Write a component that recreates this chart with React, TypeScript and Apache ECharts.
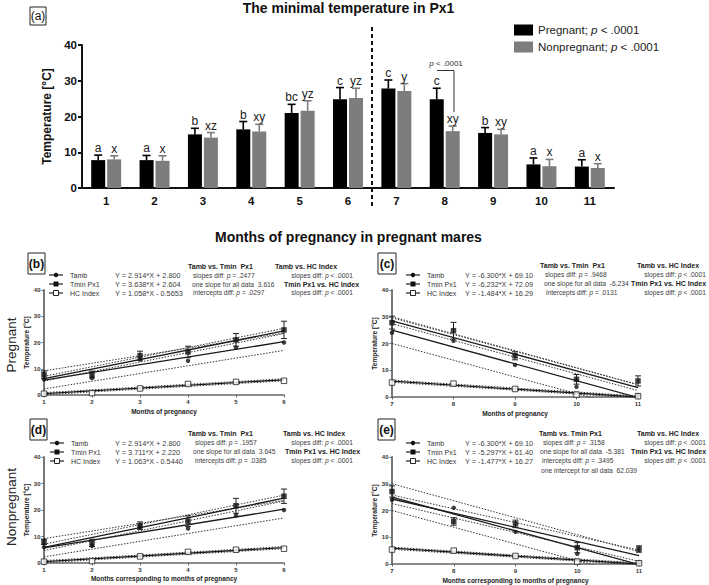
import React, { useEffect, useRef } from "react";
import * as echarts from "echarts";

const FONT = '"Liberation Sans", Arial, Helvetica, sans-serif';

// ---------- Panel (a): minimal temperature in Px1 ----------
const monthLabels = ["1", "2", "3", "4", "5", "6", "7", "8", "9", "10", "11"];
const pregnantMean = [7.8, 7.8, 15.0, 16.4, 21.0, 24.8, 27.8, 24.8, 15.4, 6.6, 6.0];
const pregnantErr = [1.4, 1.3, 1.7, 2.2, 2.4, 3.3, 2.4, 3.1, 1.5, 1.8, 1.9];
const nonpregMean = [8.0, 7.6, 14.1, 15.8, 21.6, 25.2, 27.1, 15.9, 15.0, 6.1, 5.6];
const nonpregErr = [1.0, 1.4, 1.4, 2.0, 2.8, 2.7, 2.1, 1.4, 1.4, 1.9, 1.2];
const pregnantLetters = ["a", "a", "b", "b", "bc", "c", "c", "c", "b", "a", "a"];
const nonpregLetters = ["x", "x", "xz", "xy", "yz", "yz", "y", "xy", "xy", "x", "x"];

// ---------- Panels (b)-(e) ----------
const seriesNames = ["Tamb", "Tmin Px1", "HC Index"];
const monthsEarly = [1, 2, 3, 4, 5, 6];
const monthsLate = [7, 8, 9, 10, 11];
const tambEarly = [6.0, 6.5, 13.5, 13.0, 18.0, 20.0];
const tambLate = [24.0, 21.0, 12.0, 3.8, 0.7];
const hcEarly = [0.5, 0.7, 2.5, 4.2, 5.0, 5.4];
const hcLate = [5.4, 5.0, 3.0, 0.9, 0.3];

// regression lines and confidence bands (end points)
const tambFitEarly = [[1, 5.7], [6, 20.3]];
const tambUpperEarly = [[1, 9.2], [6, 23.6]];
const tambLowerEarly = [[1, 2.3], [6, 17.0]];
const hcFitEarly = [[1, 0.5], [6, 5.8]];
const hcUpperEarly = [[1, 0.9], [6, 6.2]];
const hcLowerEarly = [[1, 0.1], [6, 5.4]];
const tminFitB = [[1, 6.2], [6, 24.4]];
const tminUpperB = [[1, 7.1], [6, 25.4]];
const tminLowerB = [[1, 5.3], [6, 23.4]];
const tminFitD = [[1, 5.9], [6, 24.5]];
const tminUpperD = [[1, 7.1], [6, 25.6]];
const tminLowerD = [[1, 4.7], [6, 23.4]];
const tambFitLate = [[7, 25.0], [11, -0.2]];
const tambUpperLate = [[7, 30.0], [11, 4.6]];
const tambLowerLate = [[7, 20.0], [11, -5.0]];
const hcFitLate = [[7, 5.9], [11, 0.0]];
const hcUpperLate = [[7, 6.3], [11, 0.4]];
const hcLowerLate = [[7, 5.5], [11, -0.4]];
const tminFitC = [[7, 28.5], [11, 3.5]];
const tminUpperC = [[7, 29.6], [11, 4.6]];
const tminLowerC = [[7, 27.4], [11, 2.4]];
const tminFitE = [[7, 24.3], [11, 3.1]];
const tminUpperE = [[7, 25.8], [11, 5.2]];
const tminLowerE = [[7, 22.6], [11, 1.0]];

// ---------- helpers ----------
function txt(x: number, y: number, text: string, o: any = {}) {
  const fontSize = o.size ?? (o.bold ? 7 : 6.7);
  const fontWeight = o.bold ? "bold" : "normal";
  const fill = o.color ?? "#3c3c3c";
  const align = o.align ?? "left";
  const parts = text.split("*p*");
  let t = text;
  let rich: any = undefined;
  if (parts.length > 1) {
    t = parts.map((p) => (p.length ? `{n|${p}}` : "")).join("{i|p}");
    rich = {
      n: { fontSize, fontWeight, fill, color: fill, fontFamily: FONT },
      i: { fontSize, fontStyle: "italic", fill, color: fill, fontFamily: FONT },
    };
  }
  return {
    type: "text",
    x,
    y,
    rotation: o.rot ?? 0,
    z: 100,
    style: {
      text: t,
      rich,
      fontSize,
      fontWeight,
      fill,
      fontFamily: FONT,
      textAlign: align,
      textVerticalAlign: "middle",
      align,
      verticalAlign: "middle",
    },
  };
}

function box(x: number, y: number, w: number, h: number, label: string, bold: boolean) {
  return [
    { type: "rect", shape: { x, y, width: w, height: h }, style: { fill: "none", stroke: "#222", lineWidth: 1 }, z: 100 },
    txt(x + w / 2, y + h / 2, label, { size: 12, bold, color: "#111", align: "center" }),
  ];
}

function panelLegend(x0: number, ys: number[]) {
  const els: any[] = [];
  ys.forEach((y, i) => {
    els.push({ type: "line", z: 100, shape: { x1: x0, y1: y, x2: x0 + 14, y2: y }, style: { stroke: "#222", lineWidth: 1.2 } });
    if (i === 0) els.push({ type: "circle", z: 101, shape: { cx: x0 + 7, cy: y, r: 2.2 }, style: { fill: "#111" } });
    else if (i === 1)
      els.push({ type: "rect", z: 101, shape: { x: x0 + 4.5, y: y - 2.5, width: 5, height: 5 }, style: { fill: "#111" } });
    else
      els.push({
        type: "rect",
        z: 101,
        shape: { x: x0 + 4.5, y: y - 2.5, width: 5, height: 5 },
        style: { fill: "#fff", stroke: "#222", lineWidth: 1 },
      });
    els.push(txt(x0 + 21, y, seriesNames[i], { size: 7, color: "#333" }));
  });
  return els;
}

const xy = (xs: number[], ys: number[]) => xs.map((x, i) => [x, ys[i]]);

function panelErrRender(params: any, api: any) {
  const x = api.value(0);
  const m = api.value(1);
  const e = api.value(2);
  const top = api.coord([x, m + e]);
  const bot = api.coord([x, m - e]);
  const st = { stroke: "#222", lineWidth: 1 };
  return {
    type: "group",
    children: [
      { type: "line", shape: { x1: top[0], y1: top[1], x2: bot[0], y2: bot[1] }, style: st },
      { type: "line", shape: { x1: top[0] - 3, y1: top[1], x2: top[0] + 3, y2: top[1] }, style: st },
      { type: "line", shape: { x1: bot[0] - 3, y1: bot[1], x2: bot[0] + 3, y2: bot[1] }, style: st },
    ],
  };
}

function panelSeries(idx: number, months: number[], tamb: number[], hc: number[], tMean: number[], tErr: number[], L: any) {
  const c = { xAxisIndex: idx, yAxisIndex: idx, silent: true };
  const solid = (d: any) => ({ ...c, type: "line", data: d, symbol: "none", lineStyle: { color: "#1a1a1a", width: 1.3 }, z: 2 });
  const dotted = (d: any) => ({
    ...c,
    type: "line",
    data: d,
    symbol: "none",
    lineStyle: { color: "#333", width: 1, type: [1.5, 1.5] },
    z: 2,
  });
  return [
    solid(L.tambFit),
    dotted(L.tambUp),
    dotted(L.tambLo),
    solid(L.tminFit),
    dotted(L.tminUp),
    dotted(L.tminLo),
    solid(L.hcFit),
    dotted(L.hcUp),
    dotted(L.hcLo),
    { ...c, type: "scatter", data: xy(months, tamb), symbol: "circle", symbolSize: 4.5, itemStyle: { color: "#111" }, z: 4 },
    {
      ...c,
      type: "scatter",
      data: xy(months, hc),
      symbol: "rect",
      symbolSize: 5.5,
      itemStyle: { color: "#fff", borderColor: "#222", borderWidth: 1 },
      z: 4,
    },
    {
      ...c,
      type: "custom",
      data: months.map((m, i) => [m, tMean[i], tErr[i]]),
      encode: { x: 0, y: 1 },
      renderItem: panelErrRender,
      z: 3,
    },
    { ...c, type: "scatter", data: xy(months, tMean), symbol: "rect", symbolSize: 5.5, itemStyle: { color: "#111" }, z: 5 },
  ];
}

function barErrSeries(means: number[], errs: number[], letters: string[], offset: number, color: string) {
  return {
    type: "custom",
    xAxisIndex: 0,
    yAxisIndex: 0,
    silent: true,
    z: 3,
    data: means.map((m, i) => [i, m, errs[i]]),
    encode: { x: 0, y: 1 },
    renderItem: (params: any, api: any) => {
      const i = api.value(0);
      const m = api.value(1);
      const e = api.value(2);
      const base = api.coord([i, m]);
      const top = api.coord([i, m + e]);
      const x = base[0] + offset;
      const st = { stroke: color, lineWidth: 1.6 };
      return {
        type: "group",
        children: [
          { type: "line", shape: { x1: x, y1: base[1], x2: x, y2: top[1] }, style: st },
          { type: "line", shape: { x1: x - 4, y1: top[1], x2: x + 4, y2: top[1] }, style: st },
          {
            type: "text",
            style: {
              text: letters[params.dataIndex],
              x,
              y: top[1] - 1,
              textAlign: "center",
              textVerticalAlign: "bottom",
              align: "center",
              verticalAlign: "bottom",
              fontSize: 12,
              fontFamily: FONT,
              fill: "#222",
            },
          },
        ],
      };
    },
  };
}

function smallX(gridIndex: number, min: number, max: number, name: string, gap: number) {
  return {
    type: "value",
    gridIndex,
    min,
    max,
    interval: 1,
    name,
    nameLocation: "middle",
    nameGap: gap,
    nameTextStyle: { fontSize: 6.5, fontWeight: "bold", color: "#222", fontFamily: FONT },
    axisLine: { show: true, onZero: false, lineStyle: { color: "#666", width: 1.5 } },
    axisTick: { show: true, length: 2.5, lineStyle: { color: "#666", width: 1 } },
    axisLabel: { fontSize: 6, fontWeight: "bold", color: "#333", margin: 3.5, fontFamily: FONT },
    splitLine: { show: false },
  };
}

function smallY(gridIndex: number) {
  return {
    type: "value",
    gridIndex,
    min: 0,
    max: 40,
    interval: 10,
    name: "Temperature [°C]",
    nameLocation: "middle",
    nameGap: 13,
    nameTextStyle: { fontSize: 6.5, fontWeight: "bold", color: "#222", fontFamily: FONT },
    axisLine: { show: true, lineStyle: { color: "#777", width: 2 } },
    axisTick: { show: true, length: 2.5, lineStyle: { color: "#666", width: 1 } },
    axisLabel: { fontSize: 6, fontWeight: "bold", color: "#333", margin: 3.5, fontFamily: FONT },
    splitLine: { show: false },
  };
}

function buildOption() {
  const graphic: any[] = [
    txt(348.5, 8, "The minimal temperature in Px1", { size: 14, bold: true, color: "#111", align: "center" }),
    ...box(30, 7, 16, 18, "(a)", false),
    // divider between months 6 and 7
    { type: "line", z: 100, shape: { x1: 372, y1: 27, x2: 372, y2: 206 }, style: { stroke: "#111", lineWidth: 2, lineDash: [4, 3] } },
    // bracket over month 8
    {
      type: "polyline",
      z: 100,
      shape: { points: [[437, 70.5], [454, 70.5], [454, 112]] },
      style: { stroke: "#333", lineWidth: 1, fill: "none" },
    },
    txt(446, 63.5, "*p* < .0001", { size: 8, color: "#333", align: "center" }),

    txt(348.5, 237, "Months of pregnancy in pregnant mares", { size: 14, bold: true, color: "#111", align: "center" }),
    txt(11, 345, "Pregnant", { size: 13.5, color: "#222", align: "center", rot: Math.PI / 2 }),
    txt(11, 507, "Nonpregnant", { size: 13.5, color: "#222", align: "center", rot: Math.PI / 2 }),

    // (b)
    ...box(28, 253, 17, 21, "(b)", true),
    ...panelLegend(49, [275, 284, 293]),
    txt(115, 275, "Y = 2.914*X + 2.800", { size: 7.3 }),
    txt(115, 284, "Y = 3.638*X + 2.604", { size: 7.3 }),
    txt(115, 293, "Y = 1.058*X - 0.5653", { size: 7.3 }),
    txt(188, 266, "Tamb vs. Tmin  Px1", { bold: true, color: "#222" }),
    txt(193, 275, "slopes diff: *p* = .2477"),
    txt(192, 284, "one slope for all data  3.616"),
    txt(193, 292.5, "intercepts diff: *p* = .0297"),
    txt(275, 266, "Tamb vs. HC Index", { bold: true, color: "#222" }),
    txt(353, 275, "slopes diff: *p* < .0001", { align: "right" }),
    txt(284, 284, "Tmin Px1 vs. HC Index", { bold: true, color: "#222" }),
    txt(353, 292.5, "slopes diff: *p* < .0001", { align: "right" }),

    // (c)
    ...box(378, 253, 18, 21, "(c)", true),
    ...panelLegend(406, [275, 284, 293]),
    txt(465, 275, "Y = -6.300*X + 69.10", { size: 7.3 }),
    txt(465, 284, "Y = -6.232*X + 72.09", { size: 7.3 }),
    txt(465, 293, "Y = -1.484*X + 16.29", { size: 7.3 }),
    txt(540, 265, "Tamb vs. Tmin  Px1", { bold: true, color: "#222" }),
    txt(545, 274.5, "slopes diff: *p* = .9468"),
    txt(544, 283.5, "one slope for all data  -6.234"),
    txt(546, 292, "intercepts diff: *p* = .0131"),
    txt(637, 265, "Tamb vs. HC Index", { bold: true, color: "#222" }),
    txt(706, 274.5, "slopes diff: *p* < .0001", { align: "right" }),
    txt(631, 283.5, "Tmin Px1 vs. HC Index", { bold: true, color: "#222" }),
    txt(706, 292, "slopes diff: *p* < .0001", { align: "right" }),

    // (d)
    ...box(30, 419, 17, 21, "(d)", true),
    ...panelLegend(50, [443, 452, 461]),
    txt(115, 443, "Y = 2.914*X + 2.800", { size: 7.3 }),
    txt(115, 452, "Y = 3.711*X + 2.220", { size: 7.3 }),
    txt(115, 461, "Y = 1.063*X - 0.5440", { size: 7.3 }),
    txt(188, 433.5, "Tamb vs. Tmin  Px1", { bold: true, color: "#222" }),
    txt(195, 442.5, "slopes diff: *p* = .1957"),
    txt(193, 451.5, "one slope for all data  3.645"),
    txt(195, 460.5, "intercepts diff: *p* = .0385"),
    txt(283, 433.5, "Tamb vs. HC Index", { bold: true, color: "#222" }),
    txt(353, 442.5, "slopes diff: *p* < .0001", { align: "right" }),
    txt(285, 451.5, "Tmin Px1 vs. HC Index", { bold: true, color: "#222" }),
    txt(353, 460.5, "slopes diff: *p* < .0001", { align: "right" }),

    // (e)
    ...box(378, 419, 17, 21, "(e)", true),
    ...panelLegend(406, [443, 452, 461]),
    txt(465, 443, "Y = -6.300*X + 69.10", { size: 7.3 }),
    txt(465, 452, "Y = -5.297*X + 61.40", { size: 7.3 }),
    txt(465, 461, "Y = -1.477*X + 16.27", { size: 7.3 }),
    txt(539, 433.5, "Tamb vs. Tmin Px1", { bold: true, color: "#222" }),
    txt(543, 442.5, "slopes diff: *p* = .3158"),
    txt(540, 451.5, "one slope for all data  -5.381"),
    txt(542, 460.5, "intercepts diff: *p* = .3495"),
    txt(541, 470, "one intercept for all data  62.039"),
    txt(637, 433.5, "Tamb vs. HC Index", { bold: true, color: "#222" }),
    txt(706, 442.5, "slopes diff: *p* < .0001", { align: "right" }),
    txt(631, 451.5, "Tmin Px1 vs. HC Index", { bold: true, color: "#222" }),
    txt(706, 460.5, "slopes diff: *p* < .0001", { align: "right" }),
  ];

  return {
    animation: false,
    backgroundColor: "#fff",
    textStyle: { fontFamily: FONT },
    grid: [
      { left: 82, top: 45, width: 532, height: 143 },
      { left: 44, top: 290, width: 240, height: 105 },
      { left: 392, top: 290, width: 246, height: 107 },
      { left: 44, top: 457, width: 240, height: 106 },
      { left: 392, top: 457, width: 247, height: 108 },
    ],
    legend: {
      data: ["Pregnant", "Nonpregnant"],
      orient: "vertical",
      left: 509,
      top: 19,
      itemWidth: 19,
      itemHeight: 11,
      itemGap: 5,
      icon: "rect",
      textStyle: {
        fontSize: 11.5,
        color: "#222",
        fontFamily: FONT,
        rich: { i: { fontStyle: "italic", fontSize: 11.5, color: "#222", fontFamily: FONT } },
      },
      formatter: (n: string) => `${n}; {i|p} < .0001`,
    },
    xAxis: [
      {
        type: "category",
        gridIndex: 0,
        data: monthLabels,
        axisLine: { show: true, lineStyle: { color: "#111", width: 2 } },
        axisTick: { show: false },
        axisLabel: { fontSize: 11.5, fontWeight: "bold", color: "#111", margin: 7, fontFamily: FONT },
      },
      smallX(1, 1, 6, "Months of pregnancy", 13),
      smallX(2, 7, 11, "Months of pregnancy", 13),
      smallX(3, 1, 6, "Months corresponding to months of pregnancy", 12),
      smallX(4, 7, 11, "Months corresponding to months of pregnancy", 13),
    ],
    yAxis: [
      {
        type: "value",
        gridIndex: 0,
        min: 0,
        max: 40,
        interval: 10,
        name: "Temperature [°C]",
        nameLocation: "middle",
        nameGap: 22,
        nameTextStyle: { fontSize: 12, fontWeight: "bold", color: "#111", fontFamily: FONT },
        axisLine: { show: true, lineStyle: { color: "#111", width: 2 } },
        axisTick: { show: true, length: 4, lineStyle: { color: "#111", width: 2 } },
        axisLabel: { fontSize: 11.5, fontWeight: "bold", color: "#111", margin: 5, fontFamily: FONT },
        splitLine: { show: false },
      },
      smallY(1),
      smallY(2),
      smallY(3),
      smallY(4),
    ],
    series: [
      {
        name: "Pregnant",
        type: "bar",
        xAxisIndex: 0,
        yAxisIndex: 0,
        data: pregnantMean,
        barWidth: 14,
        barGap: "14%",
        itemStyle: { color: "#000" },
      },
      {
        name: "Nonpregnant",
        type: "bar",
        xAxisIndex: 0,
        yAxisIndex: 0,
        data: nonpregMean,
        barWidth: 14,
        barGap: "14%",
        itemStyle: { color: "#7d7d7d" },
      },
      barErrSeries(pregnantMean, pregnantErr, pregnantLetters, -8, "#000"),
      barErrSeries(nonpregMean, nonpregErr, nonpregLetters, 8, "#7d7d7d"),
      ...panelSeries(1, monthsEarly, tambEarly, hcEarly, pregnantMean.slice(0, 6), pregnantErr.slice(0, 6), {
        tambFit: tambFitEarly, tambUp: tambUpperEarly, tambLo: tambLowerEarly,
        tminFit: tminFitB, tminUp: tminUpperB, tminLo: tminLowerB,
        hcFit: hcFitEarly, hcUp: hcUpperEarly, hcLo: hcLowerEarly,
      }),
      ...panelSeries(2, monthsLate, tambLate, hcLate, pregnantMean.slice(6), pregnantErr.slice(6), {
        tambFit: tambFitLate, tambUp: tambUpperLate, tambLo: tambLowerLate,
        tminFit: tminFitC, tminUp: tminUpperC, tminLo: tminLowerC,
        hcFit: hcFitLate, hcUp: hcUpperLate, hcLo: hcLowerLate,
      }),
      ...panelSeries(3, monthsEarly, tambEarly, hcEarly, nonpregMean.slice(0, 6), nonpregErr.slice(0, 6), {
        tambFit: tambFitEarly, tambUp: tambUpperEarly, tambLo: tambLowerEarly,
        tminFit: tminFitD, tminUp: tminUpperD, tminLo: tminLowerD,
        hcFit: hcFitEarly, hcUp: hcUpperEarly, hcLo: hcLowerEarly,
      }),
      ...panelSeries(4, monthsLate, tambLate, hcLate, nonpregMean.slice(6), nonpregErr.slice(6), {
        tambFit: tambFitLate, tambUp: tambUpperLate, tambLo: tambLowerLate,
        tminFit: tminFitE, tminUp: tminUpperE, tminLo: tminLowerE,
        hcFit: hcFitLate, hcUp: hcUpperLate, hcLo: hcLowerLate,
      }),
    ],
    graphic,
  };
}

export default function App() {
  const ref = useRef<HTMLDivElement>(null);
  useEffect(() => {
    if (!ref.current) return;
    const chart = echarts.init(ref.current, undefined, { renderer: "svg" });
    chart.setOption(buildOption() as any);
    return () => chart.dispose();
  }, []);
  return (
    <div
      ref={ref}
      style={{ position: "fixed", left: 0, top: 0, width: 709, height: 585, background: "#fff" }}
    />
  );
}
